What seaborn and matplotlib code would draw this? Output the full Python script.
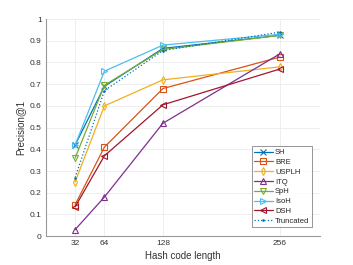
import numpy as np
import pandas as pd
import matplotlib
matplotlib.use("Agg")
import matplotlib.pyplot as plt
import seaborn as sns

bits = [32, 64, 128, 256]

sh = [0.42, 0.69, 0.865, 0.925]
bre = [0.145, 0.41, 0.68, 0.825]
usplh = [0.25, 0.60, 0.72, 0.78]
itq = [0.03, 0.18, 0.52, 0.84]
sph = [0.36, 0.695, 0.86, 0.925]
isoh = [0.42, 0.76, 0.88, 0.93]
dsh = [0.135, 0.37, 0.605, 0.77]
truncated = [0.27, 0.67, 0.855, 0.94]

methods = ["SH", "BRE", "USPLH", "ITQ", "SpH", "IsoH", "DSH", "Truncated"]
values = [sh, bre, usplh, itq, sph, isoh, dsh, truncated]

# estilo MATLAB
colors = ["#0072BD", "#D95319", "#EDB120", "#7E2F8E", "#77AC30", "#4DBEEE", "#A2142F", "#0072BD"]
markers = ["x", "s", "d", "^", "v", ">", "<", "."]
styles = ["-", "-", "-", "-", "-", "-", "-", ":"]

sns.set_style("whitegrid")
plt.rcParams["font.family"] = ["Liberation Sans", "DejaVu Sans"]

fig = plt.figure(figsize=(3.53, 2.65), dpi=100)
ax = fig.add_axes([0.130, 0.109, 0.777, 0.819])

for name, vals, c, m, ls in zip(methods, values, colors, markers, styles):
    df = pd.DataFrame({"bits": bits, "prec": vals})
    sns.lineplot(
        data=df, x="bits", y="prec", ax=ax, color=c, marker=m,
        linestyle=ls, linewidth=0.9, markersize=4 if m != "." else 2,
        markerfacecolor="none" if m not in ("x", ".") else c,
        markeredgecolor=c, markeredgewidth=0.8, label=name,
    )

ax.set_xlim(0, 300)
ax.set_ylim(0, 1)
ax.set_xticks(bits)
ax.set_yticks(np.arange(0, 1.01, 0.1))
ax.set_yticklabels(["0"] + [f"{v:.1f}" for v in np.arange(0.1, 0.95, 0.1)] + ["1"])
ax.tick_params(labelsize=6, colors="#777777", labelcolor="#333333",
               direction="in", length=2, width=0.5, pad=3)
ax.set_xlabel("Hash code length", fontsize=7, color="#333333", labelpad=3)
ax.set_ylabel("Precision@1", fontsize=7, color="#333333", labelpad=3)
ax.grid(True, color="#ebebeb", linewidth=0.6)
for side in ["top", "right"]:
    ax.spines[side].set_visible(False)
for side in ["left", "bottom"]:
    ax.spines[side].set_color("#999999")
    ax.spines[side].set_linewidth(0.8)

leg = ax.legend(loc="lower right", fontsize=5.5, frameon=True, fancybox=False,
                handlelength=2.4, borderpad=0.35, labelspacing=0.32,
                handletextpad=0.3, borderaxespad=0.0,
                bbox_to_anchor=(0.97, 0.04))
leg.get_frame().set_edgecolor("#666666")
leg.get_frame().set_linewidth(0.6)

fig.savefig("out.png", dpi=100)
